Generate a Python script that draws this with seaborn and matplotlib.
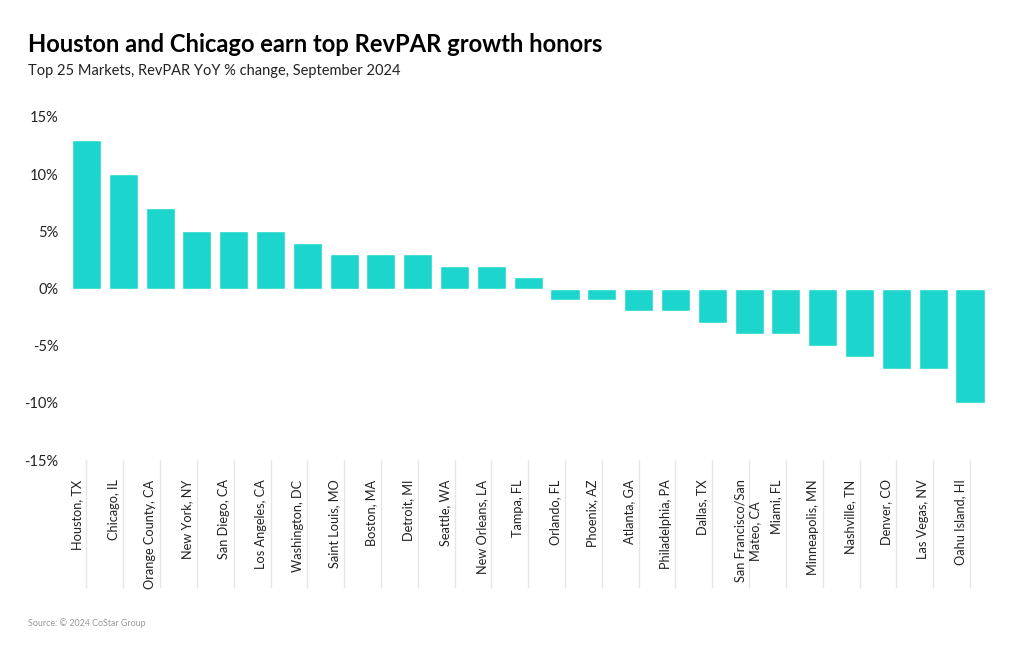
import numpy as np
import pandas as pd
import matplotlib
matplotlib.use("Agg")
import matplotlib.pyplot as plt
import matplotlib.transforms as mtransforms
import seaborn as sns

markets = ["Houston, TX", "Chicago, IL", "Orange County, CA", "New York, NY",
           "San Diego, CA", "Los Angeles, CA", "Washington, DC", "Saint Louis, MO",
           "Boston, MA", "Detroit, MI", "Seattle, WA", "New Orleans, LA",
           "Tampa, FL", "Orlando, FL", "Phoenix, AZ", "Atlanta, GA",
           "Philadelphia, PA", "Dallas, TX", "San Francisco/San\nMateo, CA",
           "Miami, FL", "Minneapolis, MN", "Nashville, TN", "Denver, CO",
           "Las Vegas, NV", "Oahu Island, HI"]
revpar_change = [13, 10, 7, 5, 5, 5, 4, 3, 3, 3, 2, 2, 1,
                 -1, -1, -2, -2, -3, -4, -4, -5, -6, -7, -7, -10]
y_ticks = [-15, -10, -5, 0, 5, 10, 15]

df = pd.DataFrame({"market": markets, "change": revpar_change})

sns.set_style("white")
plt.rcParams['font.family'] = ['Lato', 'DejaVu Sans']

fig = plt.figure(figsize=(10.2, 6.5), dpi=100)
ax = fig.add_axes([0.0667, 0.2923, 0.9023, 0.5277])

sns.barplot(data=df, x="market", y="change", color="#1cd6cd", width=0.79,
            saturation=1, ax=ax)

ax.set_ylim(-15, 15)
ax.set_yticks(y_ticks)
ax.set_yticklabels([f"{t}%" for t in y_ticks], fontsize=10.5, color="#222222")
ax.set_xlim(-0.5, len(markets) - 0.5)
ax.set_xlabel("")
ax.set_ylabel("")
sns.despine(ax=ax, left=True, bottom=True)

ax.tick_params(axis="y", left=False, length=0, pad=7)
# long light tick lines under each category, labels tucked next to them
ax.tick_params(axis="x", bottom=True, length=92, width=1, color="#e6e6e6",
               pad=-78, labelsize=9.2, labelcolor="#222222")
ax.set_xticks(range(len(markets)))
ax.set_xticklabels(markets, rotation=90, ha="center", va="top")
for lab in ax.get_xticklabels():
    dx = -1 / 72 if "\n" in lab.get_text() else -7 / 72
    off = mtransforms.ScaledTranslation(dx, 0, fig.dpi_scale_trans)
    lab.set_transform(lab.get_transform() + off)

fig.text(28 / 1020, 1 - 52 / 650, "Houston and Chicago earn top RevPAR growth honors",
         fontsize=17.1, fontweight="bold", color="#000000", va="baseline")
fig.text(28 / 1020, 1 - 75 / 650, "Top 25 Markets, RevPAR YoY % change, September 2024",
         fontsize=10.5, color="#222222", va="baseline")
fig.text(28 / 1020, 1 - 626 / 650, "Source: \u00a9 2024 CoStar Group",
         fontsize=6.4, color="#999999", va="baseline")

fig.savefig("out.png", dpi=100)
